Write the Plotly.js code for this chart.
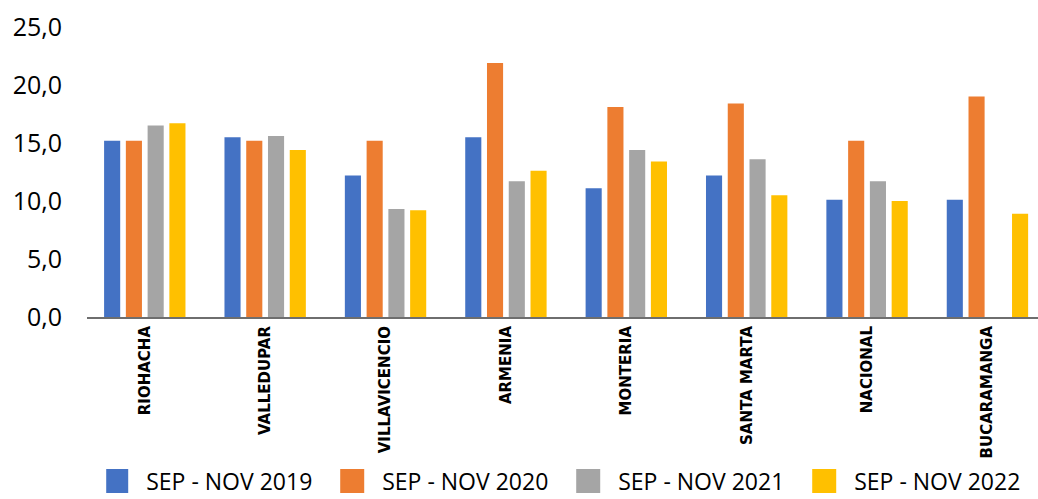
<!DOCTYPE html>
<html>
<head>
<meta charset="utf-8">
<script src="https://cdn.plot.ly/plotly-3.0.1.min.js"></script>
<style>html,body{margin:0;padding:0;background:#fff;overflow:hidden;}</style>
</head>
<body>
<div id="chart" style="width:1038px;height:499px;"></div>
<script>
const categories = ["RIOHACHA","VALLEDUPAR","VILLAVICENCIO","ARMENIA","MONTERIA","SANTA MARTA","NACIONAL","BUCARAMANGA"];
const seriesNames = ["SEP - NOV 2019","SEP - NOV 2020","SEP - NOV 2021","SEP - NOV 2022"];
const sep2019 = [15.2, 15.5, 12.2, 15.5, 11.1, 12.2, 10.1, 10.1];
const sep2020 = [15.2, 15.2, 15.2, 21.9, 18.1, 18.4, 15.2, 19.0];
const sep2021 = [16.5, 15.6, 9.3, 11.7, 14.4, 13.6, 11.7, null];
const sep2022 = [16.7, 14.4, 9.2, 12.6, 13.4, 10.5, 10.0, 8.9];
const yTicks = [0, 5, 10, 15, 20, 25];
const colors = ["#4472C4","#ED7D31","#A5A5A5","#FFC000"];

const allSeries = [sep2019, sep2020, sep2021, sep2022];
const traces = allSeries.map((vals, i) => ({
  type: 'bar',
  name: seriesNames[i],
  x: categories,
  y: vals,
  marker: {color: colors[i], line: {width: 0}},
  hoverinfo: 'x+y+name'
}));

const layout = {
  width: 1038, height: 499,
  margin: {l: 87, r: 0, t: 27, b: 182, pad: 0, autoexpand: false},
  paper_bgcolor: '#ffffff', plot_bgcolor: '#ffffff',
  separators: ',.',
  barmode: 'group',
  bargap: 0.277,
  bargroupgap: 0.26,
  font: {family: '"Open Sans", "Noto Sans", sans-serif', color: '#000'},
  xaxis: {
    type: 'category',
    range: [-0.48, 7.42],
    tickangle: -90,
    ticks: '',
    showgrid: false,
    zeroline: false,
    showline: true,
    linecolor: '#6e6e6e',
    linewidth: 2,
    ticklabelstandoff: 1,
    tickfont: {family: '"DejaVu Sans", Verdana, sans-serif', size: 15, color: '#000', weight: 'bold'}
  },
  yaxis: {
    range: [0, 25],
    tickvals: yTicks,
    tickformat: '.1f',
    ticks: '',
    showgrid: false,
    zeroline: false,
    showline: false,
    ticklabelstandoff: 24,
    tickfont: {family: '"Open Sans", sans-serif', size: 25, color: '#000'}
  },
  showlegend: true,
  legend: {
    orientation: 'h',
    xref: 'paper', yref: 'container',
    x: 0.0202, y: 0.036,
    xanchor: 'left', yanchor: 'middle',
    entrywidth: 191, entrywidthmode: 'pixels',
    font: {family: '"Open Sans", sans-serif', size: 23, color: '#000'},
    bgcolor: 'rgba(0,0,0,0)',
    traceorder: 'normal'
  }
};

Plotly.newPlot('chart', traces, layout, {staticPlot: true, displayModeBar: false}).then(() => {
  document.querySelectorAll('#chart .legendpoints path').forEach(p => {
    p.setAttribute('d', 'M2,12H-22V-12H2Z');
  });
});
</script>
</body>
</html>
